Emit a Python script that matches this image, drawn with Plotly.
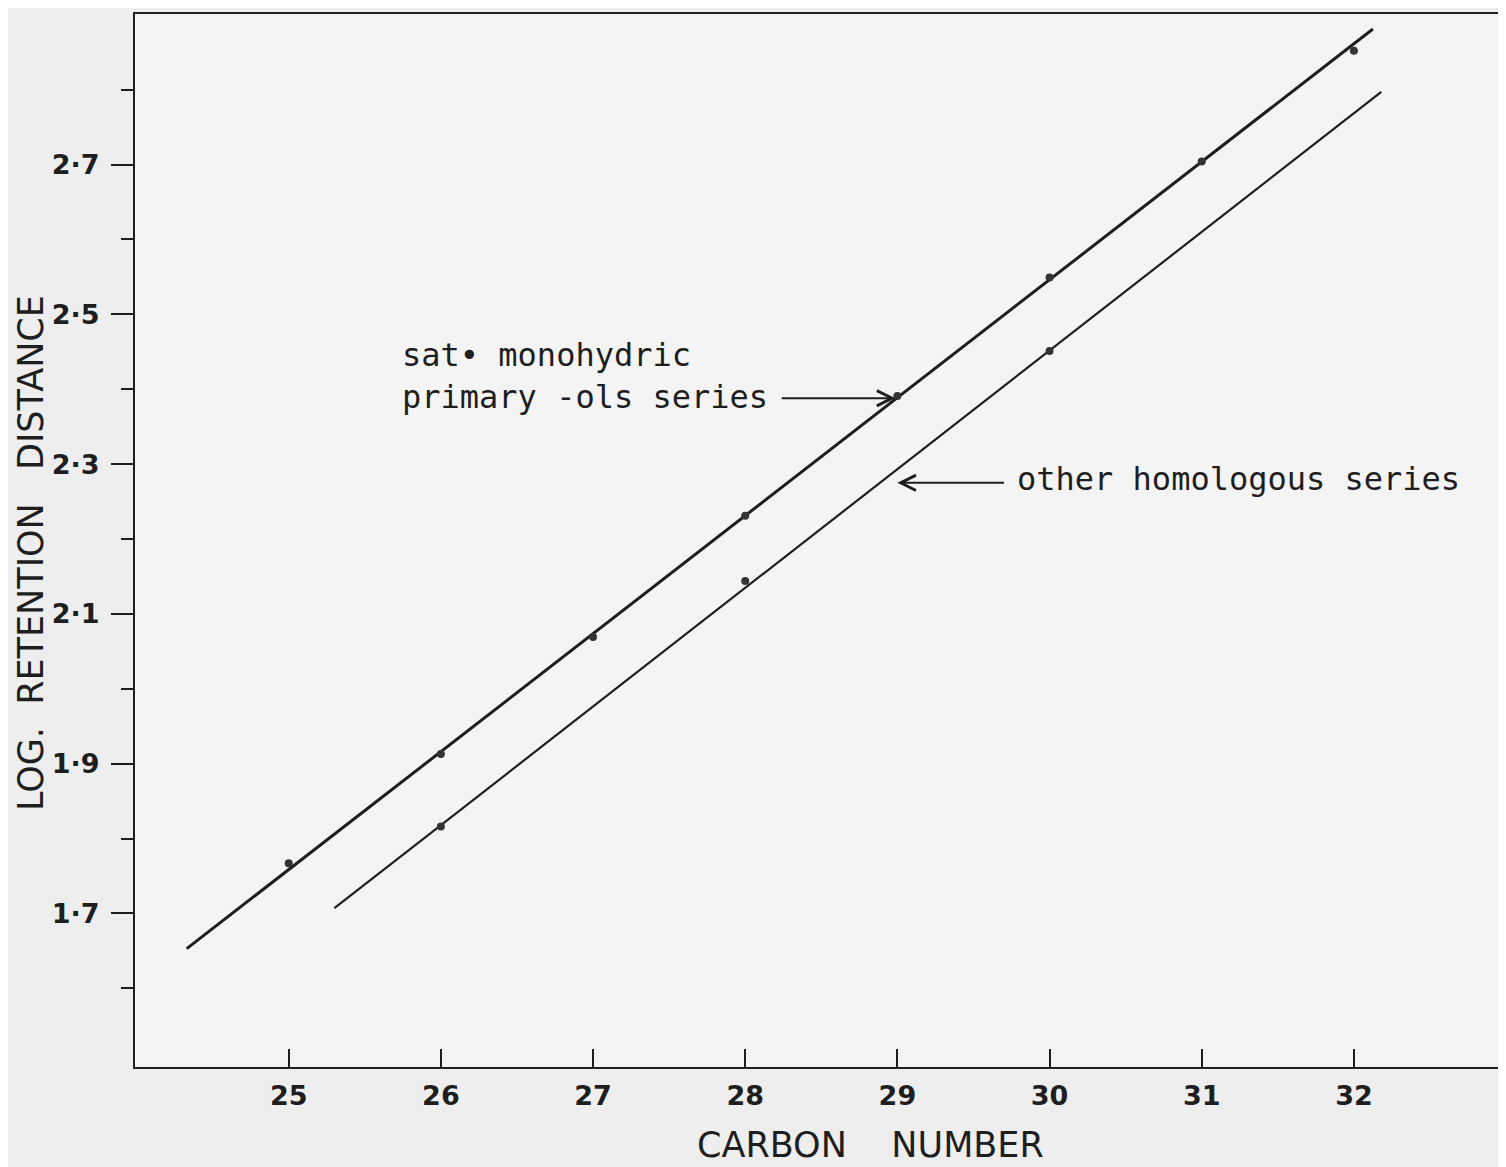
import plotly.graph_objects as go

# ---- data ----
sat_carbon = [25, 26, 27, 28, 29, 30, 31, 32]
sat_logret = [1.767, 1.913, 2.069, 2.231, 2.391, 2.549, 2.704, 2.852]

other_carbon = [26, 28, 30]
other_logret = [1.816, 2.144, 2.451]

# fitted straight lines (end points as drawn)
sat_line_x = [24.33, 32.125]
sat_line_y = [1.653, 2.881]
other_line_x = [25.30, 32.18]
other_line_y = [1.707, 2.797]

x_ticks = [25, 26, 27, 28, 29, 30, 31, 32]
y_ticks = [1.7, 1.9, 2.1, 2.3, 2.5, 2.7]
y_ticktext = ["1·7", "1·9", "2·1", "2·3", "2·5", "2·7"]
y_minor = [1.6, 1.8, 2.0, 2.2, 2.4, 2.6, 2.8]

ink = "#1e1e1e"

fig = go.Figure()
fig.add_trace(go.Scatter(x=sat_line_x, y=sat_line_y, mode="lines",
                         line=dict(color=ink, width=3), hoverinfo="skip"))
fig.add_trace(go.Scatter(x=other_line_x, y=other_line_y, mode="lines",
                         line=dict(color=ink, width=2.2), hoverinfo="skip"))
fig.add_trace(go.Scatter(x=sat_carbon, y=sat_logret, mode="markers",
                         marker=dict(color="#333", size=8)))
fig.add_trace(go.Scatter(x=other_carbon, y=other_logret, mode="markers",
                         marker=dict(color="#333", size=8)))

tick_font = dict(family="DejaVu Sans", size=27, color=ink, weight="bold")
mono = dict(family="DejaVu Sans Mono", size=32, color=ink)

fig.update_layout(
    width=1498, height=1159,
    margin=dict(l=127, r=6, t=4, b=100),
    paper_bgcolor="#eeeeee",
    plot_bgcolor="#f4f4f4",
    showlegend=False,
    xaxis=dict(range=[23.99, 32.96], tickvals=x_ticks, ticks="inside",
               ticklen=18, tickwidth=2, tickcolor=ink, showgrid=False,
               zeroline=False, showline=True, linewidth=2, linecolor=ink,
               mirror=True, tickfont=tick_font, ticklabelstandoff=4),
    yaxis=dict(range=[1.495, 2.901], tickvals=y_ticks, ticktext=y_ticktext,
               ticks="outside", ticklen=22, tickwidth=2, tickcolor=ink,
               showgrid=False, zeroline=False, showline=True, linewidth=2,
               linecolor=ink, mirror=True, tickfont=tick_font,
               ticklabelstandoff=6,
               minor=dict(tickvals=y_minor, ticks="outside", ticklen=12,
                          tickwidth=2, tickcolor=ink)),
)

# series labels with arrows
fig.add_annotation(x=25.73, y=2.417, xref="x", yref="y", xanchor="left",
                   yanchor="middle", align="left", showarrow=False,
                   text="sat• monohydric<br>primary -ols series", font=mono)
fig.add_annotation(x=28.987, y=2.388, ax=28.23, ay=2.388, xref="x", yref="y",
                   axref="x", ayref="y", text="", showarrow=True,
                   arrowhead=5, arrowsize=1.5, arrowwidth=2, arrowcolor=ink)
fig.add_annotation(x=29.77, y=2.28, xref="x", yref="y", xanchor="left",
                   yanchor="middle", showarrow=False,
                   text="other homologous series", font=mono)
fig.add_annotation(x=29.0, y=2.275, ax=29.71, ay=2.275, xref="x", yref="y",
                   axref="x", ayref="y", text="", showarrow=True,
                   arrowhead=5, arrowsize=1.5, arrowwidth=2, arrowcolor=ink)

# axis titles
fig.add_annotation(x=0.539, y=-0.074, xref="paper", yref="paper",
                   xanchor="center", yanchor="middle",
                   text="CARBON&nbsp;&nbsp;&nbsp;&nbsp;NUMBER", showarrow=False,
                   font=dict(family="DejaVu Sans", size=35, color=ink))
fig.add_annotation(x=-0.0762, y=0.488, xref="paper", yref="paper",
                   xanchor="center", yanchor="middle",
                   text="LOG.&nbsp;&nbsp;RETENTION&nbsp;&nbsp;&nbsp;DISTANCE",
                   textangle=-90, showarrow=False,
                   font=dict(family="DejaVu Sans", size=35, color=ink))

fig.write_html("out.html")
